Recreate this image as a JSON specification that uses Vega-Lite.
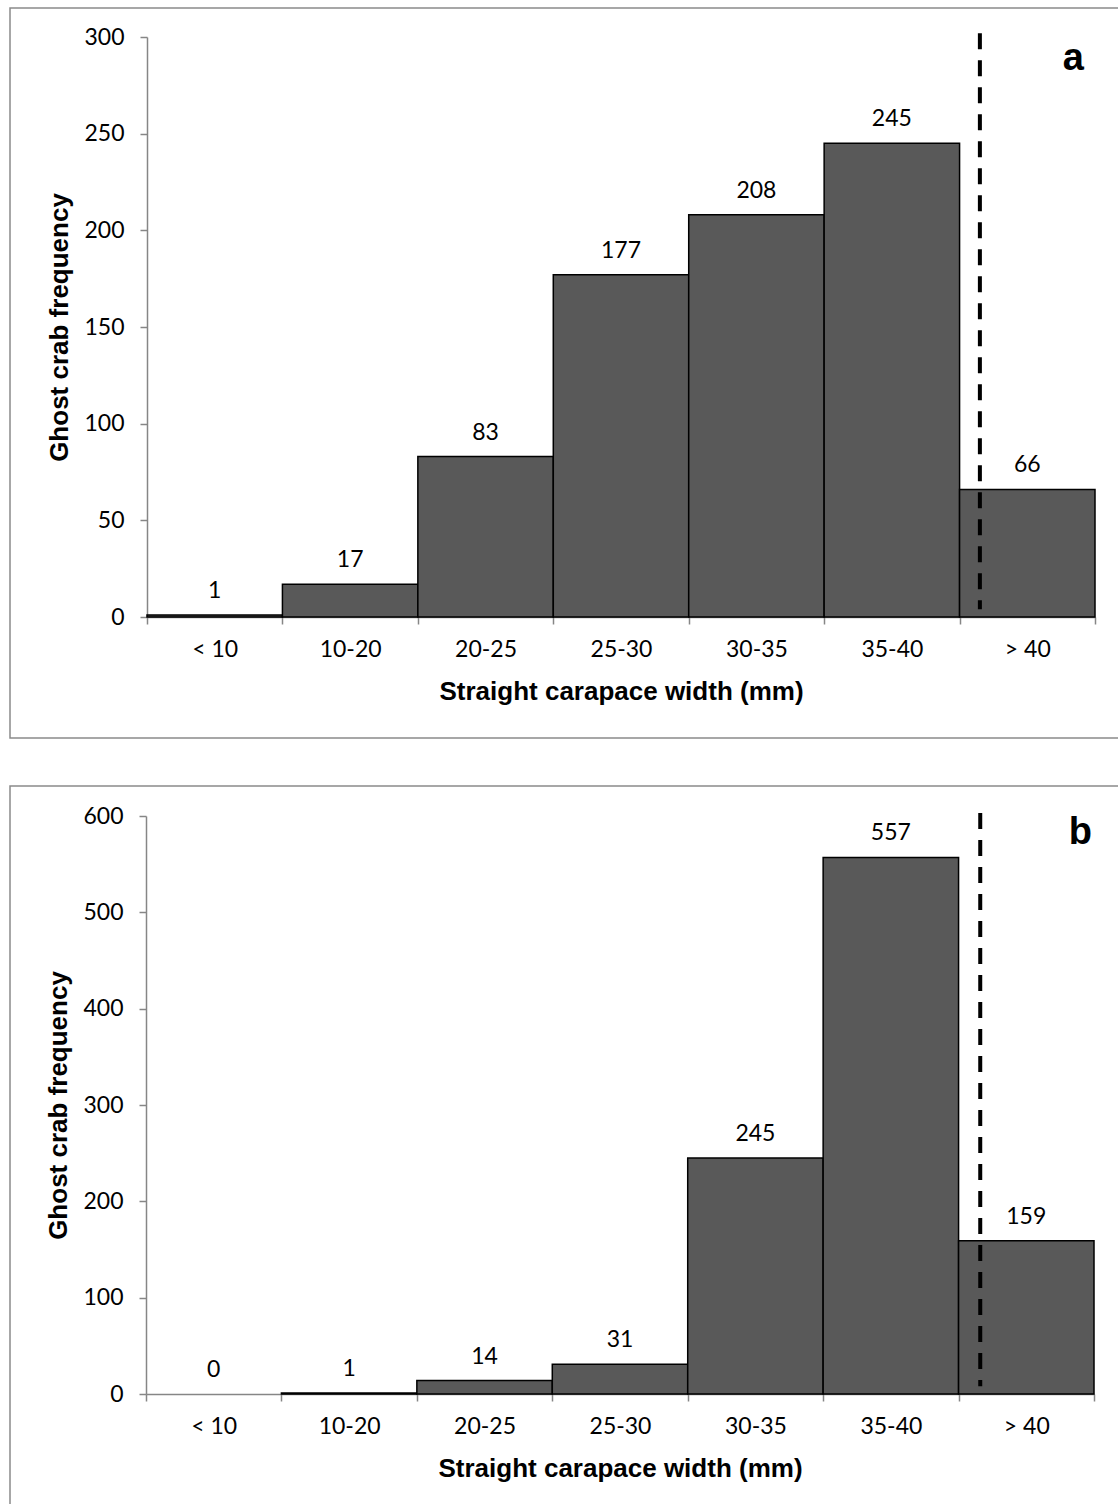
{
  "$schema": "https://vega.github.io/schema/vega-lite/v6.json",
  "padding": {"left": 9, "top": 7, "right": 0, "bottom": 0},
  "spacing": 46,
  "background": "white",
  "config": {
    "view": {"stroke": "#8a8a8a", "strokeWidth": 1.5},
    "axis": {
      "grid": false,
      "domainColor": "#868686",
      "domainWidth": 1.5,
      "tickColor": "#868686",
      "tickWidth": 1.5,
      "tickSize": 7,
      "labelFont": "Lato",
      "labelFontSize": 23,
      "labelColor": "black",
      "titleFont": "Liberation Sans",
      "titleFontSize": 26,
      "titleFontWeight": "bold",
      "titleColor": "black"
    }
  },
  "datasets": {
    "a": [
      {"width_class": "< 10", "count": 1},
      {"width_class": "10-20", "count": 17},
      {"width_class": "20-25", "count": 83},
      {"width_class": "25-30", "count": 177},
      {"width_class": "30-35", "count": 208},
      {"width_class": "35-40", "count": 245},
      {"width_class": "> 40", "count": 66}
    ],
    "b": [
      {"width_class": "< 10", "count": 0},
      {"width_class": "10-20", "count": 1},
      {"width_class": "20-25", "count": 14},
      {"width_class": "25-30", "count": 31},
      {"width_class": "30-35", "count": 245},
      {"width_class": "35-40", "count": 557},
      {"width_class": "> 40", "count": 159}
    ]
  },
  "vconcat": [
    {
      "width": 1110,
      "height": 730,
      "encoding": {
        "x": {
          "field": "width_class",
          "type": "ordinal",
          "sort": ["< 10", "10-20", "20-25", "25-30", "30-35", "35-40", "> 40"],
          "scale": {"range": [137, 1085], "paddingInner": 0, "paddingOuter": 0},
          "axis": {
            "title": "Straight carapace width (mm)",
            "labelAngle": 0,
            "tickBand": "extent",
            "labelPadding": 14,
            "titlePadding": 17,
            "offset": -121
          }
        }
      },
      "layer": [
        {
          "data": {"name": "a"},
          "transform": [{"filter": "datum.count > 0"}],
          "mark": {"type": "bar", "fill": "#595959", "stroke": "black", "strokeWidth": 1.5},
          "encoding": {
            "y": {
              "field": "count",
              "type": "quantitative",
              "scale": {"domain": [0, 300], "range": [609, 29], "nice": false},
              "axis": {
                "title": "Ghost crab frequency",
                "values": [0, 50, 100, 150, 200, 250, 300],
                "labelPadding": 16,
                "titlePadding": 11,
                "offset": -137
              }
            }
          }
        },
        {
          "data": {"name": "a"},
          "mark": {"type": "text", "font": "Lato", "fontSize": 23, "color": "black", "baseline": "alphabetic", "dy": -17},
          "encoding": {
            "y": {"field": "count", "type": "quantitative"},
            "text": {"field": "count", "type": "quantitative"}
          }
        },
        {
          "data": {"values": [{}]},
          "mark": {"type": "rule", "color": "black", "strokeWidth": 4, "strokeDash": [16, 11]},
          "encoding": {
            "x": {"datum": "> 40", "bandPosition": 0.15},
            "y": {"datum": 302},
            "y2": {"datum": 4}
          }
        },
        {
          "data": {"values": [{}]},
          "mark": {"type": "text", "text": "a", "font": "Liberation Sans", "fontWeight": "bold", "fontSize": 38, "color": "black", "baseline": "alphabetic", "align": "center"},
          "encoding": {
            "x": {"datum": "> 40", "bandPosition": 0.84},
            "y": {"datum": 283}
          }
        }
      ]
    },
    {
      "width": 1110,
      "height": 730,
      "encoding": {
        "x": {
          "field": "width_class",
          "type": "ordinal",
          "sort": ["< 10", "10-20", "20-25", "25-30", "30-35", "35-40", "> 40"],
          "scale": {"range": [136, 1084], "paddingInner": 0, "paddingOuter": 0},
          "axis": {
            "title": "Straight carapace width (mm)",
            "labelAngle": 0,
            "tickBand": "extent",
            "labelPadding": 14,
            "titlePadding": 17,
            "offset": -122
          }
        }
      },
      "layer": [
        {
          "data": {"name": "b"},
          "transform": [{"filter": "datum.count > 0"}],
          "mark": {"type": "bar", "fill": "#595959", "stroke": "black", "strokeWidth": 1.5},
          "encoding": {
            "y": {
              "field": "count",
              "type": "quantitative",
              "scale": {"domain": [0, 600], "range": [608, 30], "nice": false},
              "axis": {
                "title": "Ghost crab frequency",
                "values": [0, 100, 200, 300, 400, 500, 600],
                "labelPadding": 16,
                "titlePadding": 11,
                "offset": -136
              }
            }
          }
        },
        {
          "data": {"name": "b"},
          "mark": {"type": "text", "font": "Lato", "fontSize": 23, "color": "black", "baseline": "alphabetic", "dy": -17},
          "encoding": {
            "y": {"field": "count", "type": "quantitative"},
            "text": {"field": "count", "type": "quantitative"}
          }
        },
        {
          "data": {"values": [{}]},
          "mark": {"type": "rule", "color": "black", "strokeWidth": 4, "strokeDash": [16, 11]},
          "encoding": {
            "x": {"datum": "> 40", "bandPosition": 0.16},
            "y": {"datum": 603},
            "y2": {"datum": 8}
          }
        },
        {
          "data": {"values": [{}]},
          "mark": {"type": "text", "text": "b", "font": "Liberation Sans", "fontWeight": "bold", "fontSize": 38, "color": "black", "baseline": "alphabetic", "align": "center"},
          "encoding": {
            "x": {"datum": "> 40", "bandPosition": 0.9},
            "y": {"datum": 571}
          }
        }
      ]
    }
  ]
}
